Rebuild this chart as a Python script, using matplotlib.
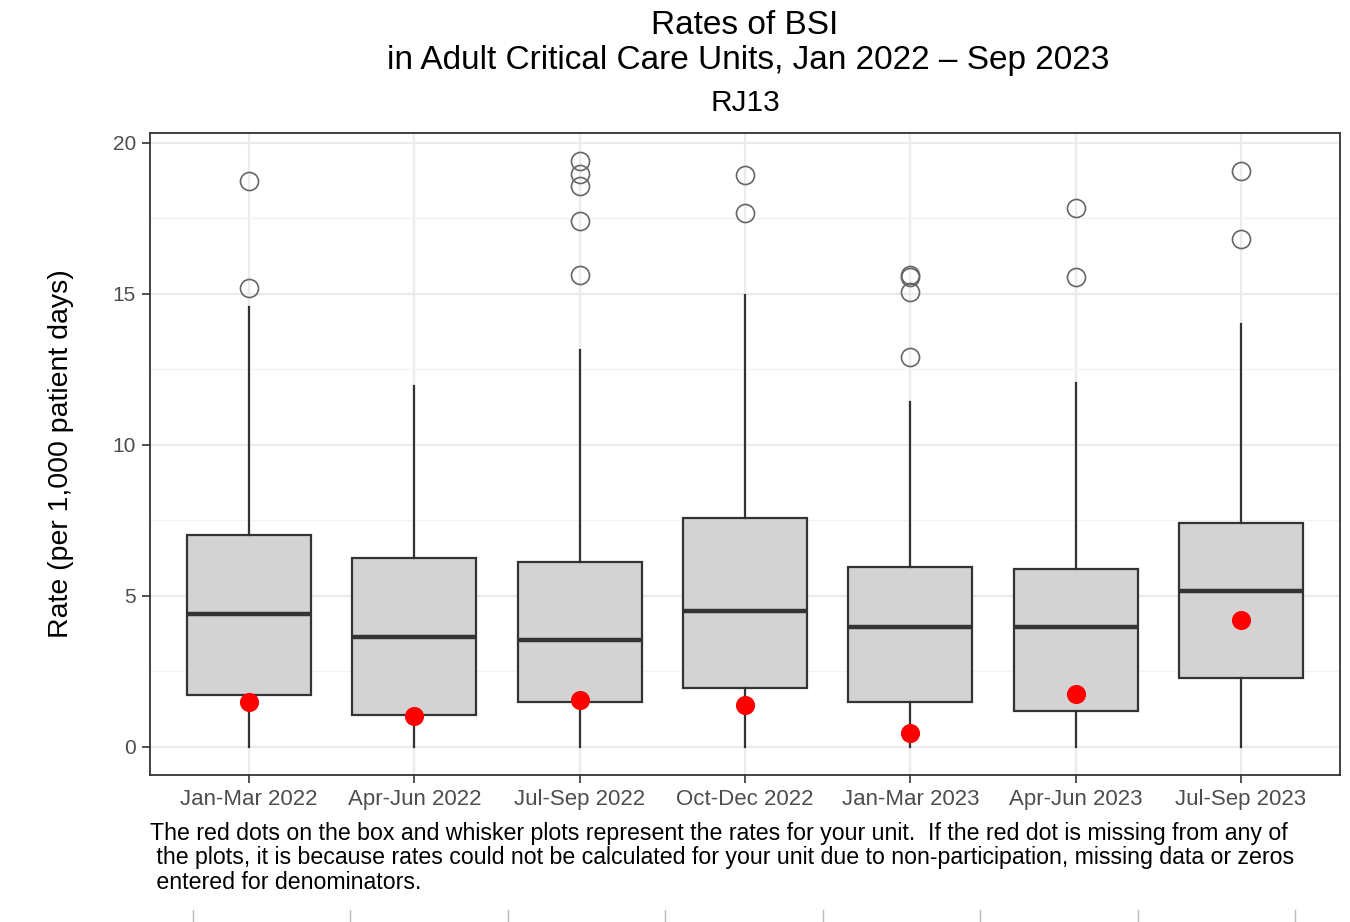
import matplotlib
matplotlib.use("Agg")
import matplotlib.pyplot as plt
from matplotlib.lines import Line2D

plt.rcParams['font.family'] = ['Liberation Sans', 'DejaVu Sans']

# Quarterly BSI rate summaries (per 1,000 patient days)
quarters = ["Jan-Mar 2022", "Apr-Jun 2022", "Jul-Sep 2022", "Oct-Dec 2022",
            "Jan-Mar 2023", "Apr-Jun 2023", "Jul-Sep 2023"]
whisker_low = [0.0, 0.0, 0.0, 0.0, 0.0, 0.0, 0.0]
q1 = [1.72, 1.06, 1.49, 1.95, 1.49, 1.19, 2.28]
median = [4.40, 3.64, 3.54, 4.50, 3.97, 3.97, 5.17]
q3 = [7.02, 6.26, 6.13, 7.58, 5.96, 5.89, 7.42]
whisker_high = [14.57, 11.95, 13.15, 14.97, 11.42, 12.05, 14.00]
outliers = [
    [18.74, 15.20],
    [],
    [19.40, 18.97, 18.58, 17.42, 15.63],
    [18.94, 17.68],
    [15.62, 15.57, 15.07, 12.91],
    [17.85, 15.56],
    [19.07, 16.82],
]
# rate for the unit (red dots)
unit_rate = [1.49, 1.03, 1.56, 1.39, 0.46, 1.75, 4.21]

title_lines = ["Rates of BSI", "in Adult Critical Care Units, Jan 2022 \u2013 Sep 2023"]
subtitle = "RJ13"
ylabel = "Rate (per 1,000 patient days)"
caption_lines = [
    "The red dots on the box and whisker plots represent the rates for your unit.  "
    "If the red dot is missing from any of",
    " the plots, it is because rates could not be calculated for your unit due to "
    "non-participation, missing data or zeros",
    " entered for denominators.",
]

W, H = 1350, 922
fig = plt.figure(figsize=(W / 100, H / 100), dpi=100)
ax = fig.add_axes([150 / W, (H - 775) / H, (1340 - 150) / W, (775 - 133) / H])

stats = []
for i in range(len(quarters)):
    stats.append(dict(whislo=whisker_low[i], q1=q1[i], med=median[i], q3=q3[i],
                      whishi=whisker_high[i], fliers=outliers[i]))

pos = list(range(1, len(quarters) + 1))
edge = "#333333"
ax.bxp(stats, positions=pos, widths=0.75, patch_artist=True, showcaps=False,
       boxprops=dict(facecolor="#D3D3D3", edgecolor=edge, linewidth=1.6),
       whiskerprops=dict(color=edge, linewidth=1.6),
       medianprops=dict(color=edge, linewidth=3.2, solid_capstyle="butt"),
       flierprops=dict(marker="o", markerfacecolor="none", markeredgecolor="#666666",
                       markersize=13, markeredgewidth=1.2),
       zorder=3)

ax.scatter(pos, unit_rate, s=190, color="red", zorder=5, linewidths=0)

ax.set_xlim(0.4, 7.6)
ax.set_ylim(-0.93, 20.33)
ax.set_xticks(pos)
ax.set_xticklabels(quarters)
ax.set_yticks([0, 5, 10, 15, 20])
ax.set_yticks([2.5, 7.5, 12.5, 17.5], minor=True)

ax.grid(True, which="major", color="#EBEBEB", linewidth=1.6, zorder=0)
ax.grid(True, which="minor", axis="y", color="#F2F2F2", linewidth=1.0, zorder=0)
ax.set_axisbelow(True)
for s in ax.spines.values():
    s.set_color(edge)
    s.set_linewidth(1.3)

ax.tick_params(axis="both", which="major", colors=edge, length=6, width=1.2,
               labelsize=15, labelcolor="#4D4D4D", pad=4)
ax.tick_params(axis="x", which="major", labelsize=16)
ax.tick_params(axis="y", which="minor", length=0)
ax.set_ylabel(ylabel, fontsize=20.5, color="black", labelpad=28)

fig.text(745 / W, 1 - 25 / H, title_lines[0], ha="center", va="center", fontsize=24)
fig.text(748 / W, 1 - 61 / H, title_lines[1], ha="center", va="center", fontsize=24)
fig.text(745 / W, 1 - 103 / H, subtitle, ha="center", va="center", fontsize=21.5)
for k, line in enumerate(caption_lines):
    fig.text(150 / W, 1 - (833 + 24.5 * k) / H, line, ha="left", va="center",
             fontsize=16.7)

# edge of the next table peeking in at the bottom
for x in [193, 350, 508, 665, 823, 980, 1138, 1295]:
    fig.add_artist(Line2D([x / W, x / W], [0, 12 / H], color="#BBBBBB", linewidth=1.0))

fig.savefig("out.png", dpi=100)
